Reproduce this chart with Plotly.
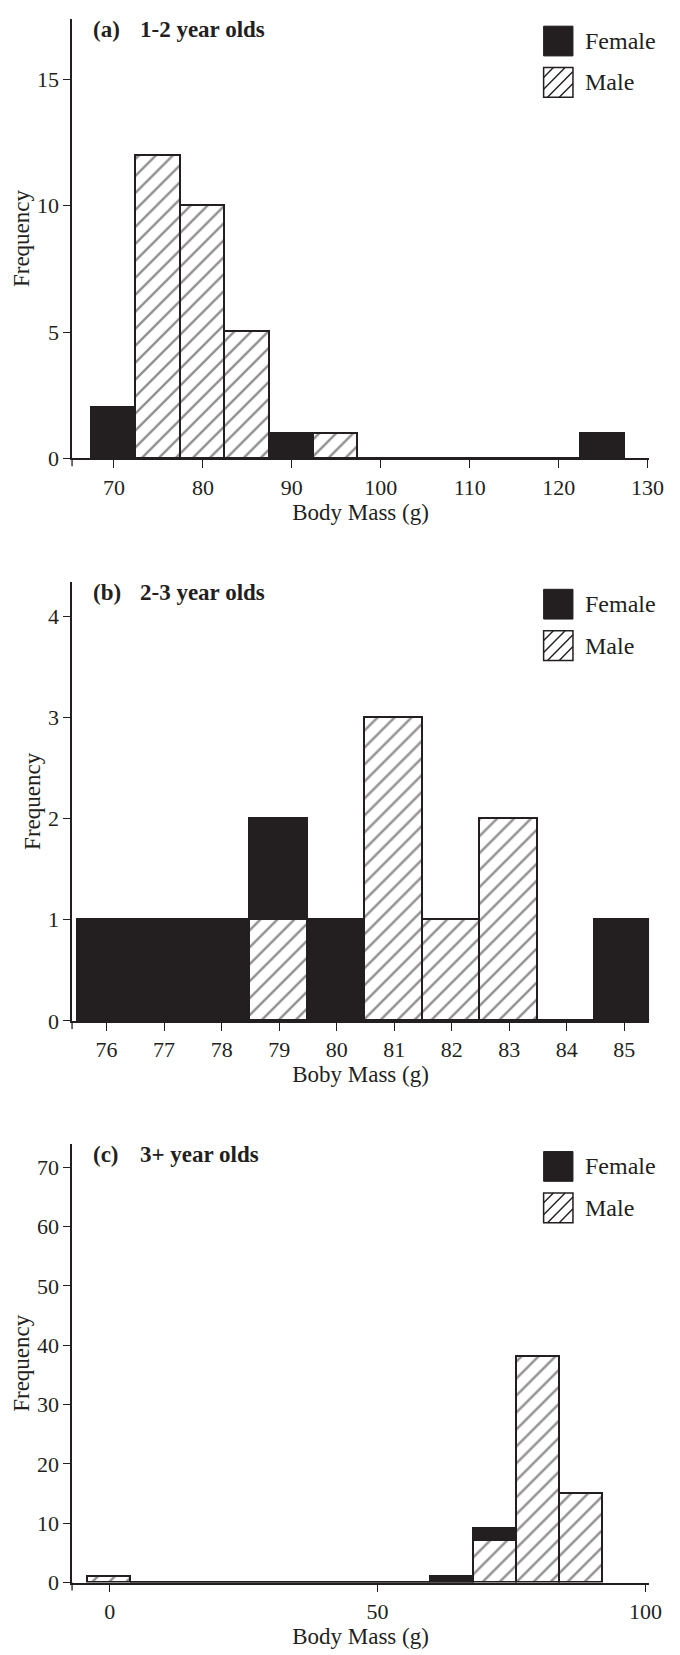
import plotly.graph_objects as go

INK = "#231f20"
FONT = "Liberation Serif, Times New Roman, serif"

# ---------------- data ----------------
# (a) 1-2 year olds, 5 g bins
A_mass = [70, 75, 80, 85, 90, 95, 100, 105, 110, 115, 120, 125]
A_female = [2, 0, 0, 0, 1, 0, 0, 0, 0, 0, 0, 1]
A_male = [0, 12, 10, 5, 0, 1, 0, 0, 0, 0, 0, 0]
A_xticks = [70, 80, 90, 100, 110, 120, 130]
A_yticks = [0, 5, 10, 15]

# (b) 2-3 year olds, 1 g bins
B_mass = [76, 77, 78, 79, 80, 81, 82, 83, 84, 85]
B_female = [1, 1, 1, 1, 1, 0, 0, 0, 0, 1]
B_male = [0, 0, 0, 1, 0, 3, 1, 2, 0, 0]
B_xticks = [76, 77, 78, 79, 80, 81, 82, 83, 84, 85]
B_yticks = [0, 1, 2, 3, 4]

# (c) 3+ year olds, 8 g bins
C_mass = [0, 8, 16, 24, 32, 40, 48, 56, 64, 72, 80, 88]
C_female = [0, 0, 0, 0, 0, 0, 0, 0, 1, 2, 0, 0]
C_male = [1, 0, 0, 0, 0, 0, 0, 0, 0, 7, 38, 15]
C_xticks = [0, 50, 100]
C_yticks = [0, 10, 20, 30, 40, 50, 60, 70]

panel_labels = ["(a)", "(b)", "(c)"]
panel_titles = ["1-2 year olds", "2-3 year olds", "3+ year olds"]
x_titles = ["Body Mass (g)", "Boby Mass (g)", "Body Mass (g)"]
y_title = "Frequency"
legend_names = ["Female", "Male"]

# ---------------- layout geometry (pixels) ----------------
W, H = 680, 1655
X_LEFT, X_RIGHT = 65.5, 655.5
panels = [
    dict(mass=A_mass, f=A_female, m=A_male, xt=A_xticks, yt=A_yticks,
         xr=[65.29, 130.16], yr=[0, 17.4], top=10.7, bottom=454.0),
    dict(mass=B_mass, f=B_female, m=B_male, xt=B_xticks, yt=B_yticks,
         xr=[75.40, 85.43], yr=[0, 4.34], top=578.3, bottom=1021.0),
    dict(mass=C_mass, f=C_female, m=C_male, xt=C_xticks, yt=C_yticks,
         xr=[-7.02, 100.67], yr=[0, 73.9], top=1145.0, bottom=1587.0),
]


def px(x):
    return x / W


def py(y):
    return 1 - y / H


fig = go.Figure()
shapes = []
annotations = []

for i, p in enumerate(panels):
    n = "" if i == 0 else str(i + 1)
    xa, ya = "x" + n, "y" + n
    # male bars (bottom of stack), hatched
    fig.add_trace(go.Bar(
        x=p["mass"], y=p["m"], name=legend_names[1], xaxis=xa, yaxis=ya,
        showlegend=False,
        marker=dict(color="white", line=dict(color=INK, width=1.8),
                    pattern=dict(shape="/", fgcolor=INK, bgcolor="white",
                                 size=12, solidity=0.2)),
    ))
    # female bars, solid black
    fig.add_trace(go.Bar(
        x=p["mass"], y=p["f"], name=legend_names[0], xaxis=xa, yaxis=ya,
        showlegend=False,
        marker=dict(color=INK, line=dict(color=INK, width=1.8)),
    ))

    axis_common = dict(showgrid=False, zeroline=False, showline=True,
                       linecolor=INK, linewidth=1.5, ticks="outside",
                       tickcolor=INK, tickwidth=1.3,
                       tickfont=dict(family=FONT, size=22, color=INK))
    fig.layout["xaxis" + n] = dict(
        axis_common, domain=[px(X_LEFT), px(X_RIGHT)], range=p["xr"],
        anchor=ya, tickmode="array", tickvals=p["xt"], ticklen=8,
        title=dict(text=x_titles[i], standoff=2,
                   font=dict(family=FONT, size=23, color=INK)),
    )
    fig.layout["yaxis" + n] = dict(
        axis_common, domain=[py(p["bottom"]), py(p["top"])], range=p["yr"],
        anchor=xa, tickmode="array", tickvals=p["yt"], ticklen=7,
        title=dict(text=y_title, standoff=1,
                   font=dict(family=FONT, size=23, color=INK)),
    )

    # small downward extension of the y axis below the baseline
    shapes.append(dict(type="line", xref="paper", yref="paper",
                       x0=px(X_LEFT), x1=px(X_LEFT),
                       y0=py(p["bottom"]), y1=py(p["bottom"] + 8),
                       line=dict(color=INK, width=1.3)))

    top = p["top"]
    # panel title
    ty = top + 11
    annotations.append(dict(text="<b>" + panel_labels[i] + "</b>", xref="paper", yref="paper",
                            x=px(84.5), y=py(ty), xanchor="left", yanchor="middle",
                            showarrow=False, font=dict(family=FONT, size=23, color=INK)))
    annotations.append(dict(text="<b>" + panel_titles[i] + "</b>", xref="paper", yref="paper",
                            x=px(132.5), y=py(ty), xanchor="left", yanchor="middle",
                            showarrow=False, font=dict(family=FONT, size=23, color=INK)))

    # legend (drawn)
    sx0, sx1 = 547.7, 577.7
    fy0 = top + 7.6
    my0 = top + 49.3
    sw = 30
    shapes.append(dict(type="rect", xref="paper", yref="paper",
                       x0=px(sx0), x1=px(sx1), y0=py(fy0), y1=py(fy0 + sw),
                       fillcolor=INK, line=dict(color=INK, width=1)))
    shapes.append(dict(type="rect", xref="paper", yref="paper",
                       x0=px(sx0), x1=px(sx1), y0=py(my0), y1=py(my0 + sw),
                       fillcolor="white", line=dict(color=INK, width=1.5)))
    path = ""
    for k in [10, 22, 34, 46]:
        if k <= sw:
            a = (sx0 + k, my0)
            b = (sx0, my0 + k)
        else:
            a = (sx0 + sw, my0 + k - sw)
            b = (sx0 + k - sw, my0 + sw)
        path += "M{:.5f},{:.5f} L{:.5f},{:.5f} ".format(px(a[0]), py(a[1]), px(b[0]), py(b[1]))
    shapes.append(dict(type="path", xref="paper", yref="paper", path=path,
                       line=dict(color=INK, width=1.4)))
    annotations.append(dict(text=legend_names[0], xref="paper", yref="paper",
                            x=px(587.7), y=py(fy0 + 15), xanchor="left", yanchor="middle",
                            showarrow=False, font=dict(family=FONT, size=24, color=INK)))
    annotations.append(dict(text=legend_names[1], xref="paper", yref="paper",
                            x=px(587.7), y=py(my0 + 15), xanchor="left", yanchor="middle",
                            showarrow=False, font=dict(family=FONT, size=24, color=INK)))

fig.update_layout(
    width=W, height=H, autosize=False,
    margin=dict(l=0, r=0, t=0, b=0),
    paper_bgcolor="white", plot_bgcolor="white",
    barmode="stack", bargap=0,
    showlegend=False,
    shapes=shapes, annotations=annotations,
    font=dict(family=FONT, color=INK),
)

fig.write_html("out.html")
